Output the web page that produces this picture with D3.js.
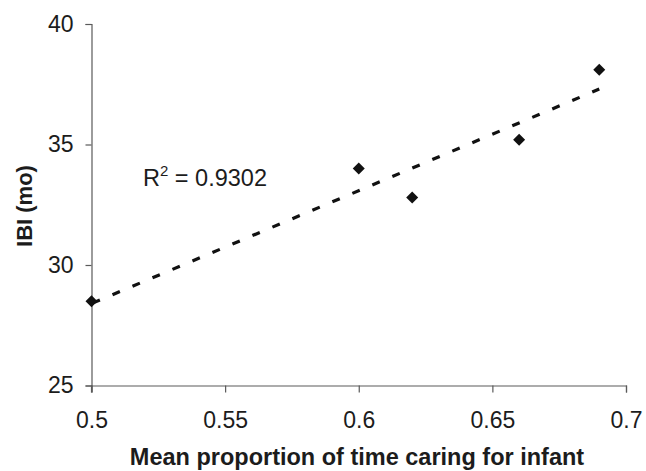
<!DOCTYPE html>
<html>
<head>
<meta charset="utf-8">
<script src="https://cdn.jsdelivr.net/npm/d3@7"></script>
<style>
  body { margin: 0; background: #fff; }
  text { font-family: "Liberation Sans", Arial, sans-serif; fill: #1c1c1c; }
</style>
</head>
<body>
<svg id="chart" width="646" height="471"></svg>
<script>
// points
const careProportion = [0.5, 0.6, 0.62, 0.66, 0.69];
const ibiMonths = [28.5, 34.0, 32.8, 35.2, 38.1];

// fitted line ends, as drawn
const trendX = [0.5, 0.69];
const trendY = [28.4, 37.3];

const xTicks = [0.5, 0.55, 0.6, 0.65, 0.7];
const yTicks = [25, 30, 35, 40];
const rSquared = "0.9302";

const svg = d3.select("#chart");

const xScale = d3.scaleLinear().domain([0.5, 0.7]).range([91.5, 626]);
const yScale = d3.scaleLinear().domain([25, 40]).range([385.5, 24]);

// x axis
const xAxis = d3
  .axisBottom(xScale)
  .tickValues(xTicks)
  .tickFormat(d3.format("~g"))
  .tickSizeOuter(0)
  .tickSize(7)
  .tickPadding(19);

const gx = svg
  .append("g")
  .attr("transform", "translate(0," + yScale(25) + ")")
  .call(xAxis);

// y axis
const yAxis = d3
  .axisLeft(yScale)
  .tickValues(yTicks)
  .tickSizeOuter(0)
  .tickSize(6)
  .tickPadding(12);

const gy = svg
  .append("g")
  .attr("transform", "translate(" + xScale(0.5) + ",0)")
  .call(yAxis);

// y axis runs a bit below the x axis, like a tick
gy.append("line")
  .attr("x1", 0)
  .attr("x2", 0)
  .attr("y1", yScale(25))
  .attr("y2", yScale(25) + 7);

[gx, gy].forEach(function (g) {
  g.selectAll("path, line").attr("stroke", "#5a5a5a").attr("stroke-width", 1.2);
  g.selectAll("text")
    .attr("fill", "#1c1c1c")
    .style("font-size", "23px")
    .style("font-family", '"Liberation Sans", Arial, sans-serif');
});

// trend line
const trendData = trendX.map(function (x, i) {
  return { x: x, y: trendY[i] };
});

const line = d3
  .line()
  .x(function (d) {
    return xScale(d.x);
  })
  .y(function (d) {
    return yScale(d.y);
  });

svg
  .append("path")
  .datum(trendData)
  .attr("fill", "none")
  .attr("stroke", "#111")
  .attr("stroke-width", 3.2)
  .attr("stroke-dasharray", "8,13.7")
  .attr("stroke-dashoffset", 20.6)
  .attr("d", line);

// diamond markers
svg
  .append("g")
  .selectAll("path")
  .data(careProportion)
  .enter()
  .append("path")
  .attr("d", d3.symbol().type(d3.symbolSquare).size(72))
  .attr("transform", function (d, i) {
    return "translate(" + xScale(d) + "," + yScale(ibiMonths[i]) + ") rotate(45)";
  })
  .attr("fill", "#111");

// R squared label
const r2 = svg
  .append("text")
  .attr("x", 143)
  .attr("y", 186)
  .style("font-size", "23.5px");
r2.append("tspan").text("R");
r2.append("tspan").attr("dy", -10).style("font-size", "15px").text("2");
r2.append("tspan").attr("dy", 10).text(" = " + rSquared);

// axis titles
svg
  .append("text")
  .attr("x", 357)
  .attr("y", 465)
  .attr("text-anchor", "middle")
  .style("font-size", "23.5px")
  .style("font-weight", "bold")
  .text("Mean proportion of time caring for infant");

svg
  .append("text")
  .attr("transform", "translate(32,206) rotate(-90)")
  .attr("text-anchor", "middle")
  .style("font-size", "22px")
  .style("font-weight", "bold")
  .text("IBI (mo)");
</script>
</body>
</html>
